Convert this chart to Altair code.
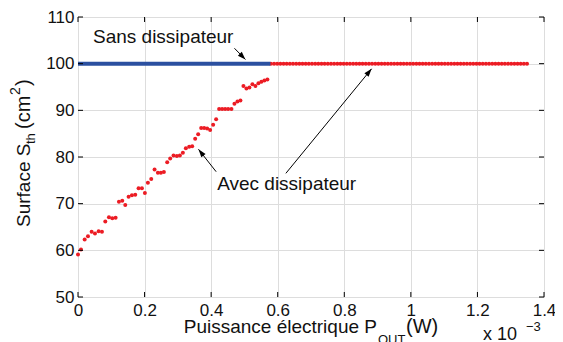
import math
import altair as alt
import pandas as pd

# ---------------- data (x in units of 1e-3 W, y in cm^2) ----------------
avec_rise_x = [0.000, 0.009, 0.020, 0.030, 0.041, 0.051, 0.062, 0.072, 0.082, 0.093,
               0.103, 0.113, 0.123, 0.133, 0.142, 0.152, 0.162, 0.172, 0.182, 0.192,
               0.201, 0.210, 0.220, 0.230, 0.240, 0.249, 0.258, 0.268, 0.277, 0.287,
               0.297, 0.306, 0.315, 0.324, 0.334, 0.343, 0.352, 0.361, 0.370, 0.379,
               0.388, 0.397, 0.406, 0.415, 0.424, 0.433, 0.442, 0.451, 0.461, 0.470,
               0.479, 0.488, 0.497, 0.506, 0.515, 0.524, 0.533, 0.542, 0.551, 0.560,
               0.569]
avec_rise_y = [59.1, 60.2, 62.3, 63.0, 64.0, 63.6, 64.1, 64.0, 66.2, 67.1,
               66.9, 67.0, 70.4, 70.6, 69.7, 71.5, 71.8, 71.9, 73.3, 73.3,
               72.3, 74.5, 75.3, 77.3, 76.6, 76.6, 76.8, 78.9, 79.7, 80.3,
               80.2, 80.3, 80.9, 81.9, 82.2, 82.3, 83.9, 84.9, 86.2, 86.2,
               86.1, 85.8, 86.9, 88.1, 90.3, 90.3, 90.3, 90.3, 90.3, 91.4,
               91.9, 92.1, 95.2, 94.7, 94.9, 95.6, 95.2, 95.8, 96.1, 96.4,
               96.6]
avec_sat_x = [0.5795, 0.589, 0.5985, 0.608, 0.6175, 0.627, 0.6365, 0.646, 0.6555, 0.665,
              0.6745, 0.684, 0.6935, 0.703, 0.7125, 0.722, 0.7315, 0.741, 0.7505, 0.76,
              0.7695, 0.779, 0.7885, 0.798, 0.8075, 0.817, 0.8265, 0.836, 0.8455, 0.855,
              0.8645, 0.874, 0.8835, 0.893, 0.9025, 0.912, 0.9215, 0.931, 0.9405, 0.95,
              0.9595, 0.969, 0.9785, 0.988, 0.9975, 1.007, 1.0165, 1.026, 1.0355, 1.045,
              1.0545, 1.064, 1.0735, 1.083, 1.0925, 1.102, 1.1115, 1.121, 1.1305, 1.14,
              1.1495, 1.159, 1.1685, 1.178, 1.1875, 1.197, 1.2065, 1.216, 1.2255, 1.235,
              1.2445, 1.254, 1.2635, 1.273, 1.2825, 1.292, 1.3015, 1.311, 1.3205, 1.33,
              1.3395, 1.349]
avec_sat_level = 100
sans_x = [0.0, 0.578]
sans_y = [100, 100]

x_ticks = [0, 0.2, 0.4, 0.6, 0.8, 1.0, 1.2, 1.4]
y_ticks = [50, 60, 70, 80, 90, 100, 110]

label_sans = "Sans dissipateur"
label_avec = "Avec dissipateur"
label_pos = {"sans": (0.045, 104.4), "avec": (0.418, 72.9)}
arrows_x0 = [0.470, 0.415, 0.6245]
arrows_y0 = [103.3, 76.85, 76.5]
arrows_x1 = [0.503, 0.362, 0.882]
arrows_y1 = [100.9, 81.65, 98.9]

# ---------------- layout ----------------
W, H = 466, 280
XDOM, YDOM = [0, 1.4], [50, 110]
FONT = "Liberation Sans"
RED = "#ec1c24"
BLUE = "#2b50a0"
TICKFS = 17

xs = alt.Scale(domain=XDOM, nice=False, zero=False)
ys = alt.Scale(domain=YDOM, nice=False, zero=False)


def X(f):
    return alt.X(f, type="quantitative", scale=xs,
                 axis=alt.Axis(values=x_ticks, format=".1~f", title=None, grid=True,
                               ticks=False, domain=False, labelFlush=False,
                               labelPadding=5, labelFont=FONT, labelFontSize=TICKFS,
                               labelColor="#111"))


def Y(f):
    return alt.Y(f, type="quantitative", scale=ys,
                 axis=alt.Axis(values=y_ticks, format="d", title=None, grid=True,
                               ticks=False, domain=False, labelPadding=4,
                               labelFont=FONT, labelFontSize=TICKFS, labelColor="#111"))


rise = pd.DataFrame({"x": avec_rise_x, "y": avec_rise_y})
sat = pd.DataFrame({"x": avec_sat_x, "y": [avec_sat_level] * len(avec_sat_x)})
avec = pd.concat([rise, sat], ignore_index=True)
sans = pd.DataFrame({"x": sans_x, "y": sans_y})

red_pts = alt.Chart(avec).mark_circle(color=RED, size=16, opacity=1).encode(x=X("x"), y=Y("y"))
blue_line = alt.Chart(sans).mark_line(color=BLUE, strokeWidth=4, strokeCap="butt").encode(x=X("x"), y=Y("y"))

# inward ticks on all four sides
xt = pd.DataFrame({"x": x_ticks})
yt = pd.DataFrame({"y": y_ticks})
tick_len = 5
ticks = [
    alt.Chart(xt).mark_rule(color="black").encode(x=X("x"), y=alt.value(H), y2=alt.value(H - tick_len)),
    alt.Chart(xt).mark_rule(color="black").encode(x=X("x"), y=alt.value(0), y2=alt.value(tick_len)),
    alt.Chart(yt).mark_rule(color="black").encode(y=Y("y"), x=alt.value(0), x2=alt.value(tick_len)),
    alt.Chart(yt).mark_rule(color="black").encode(y=Y("y"), x=alt.value(W), x2=alt.value(W - tick_len)),
]

# arrows
angs = []
for a, b, c, d in zip(arrows_x0, arrows_y0, arrows_x1, arrows_y1):
    dx = (c - a) * W / (XDOM[1] - XDOM[0])
    dy = -(d - b) * H / (YDOM[1] - YDOM[0])
    angs.append(math.degrees(math.atan2(dx, -dy)) % 360)
arr = pd.DataFrame({"x": arrows_x0, "y": arrows_y0, "x2": arrows_x1, "y2": arrows_y1, "ang": angs})
arrow_lines = alt.Chart(arr).mark_rule(color="black", strokeWidth=1).encode(
    x=X("x"), y=Y("y"), x2="x2:Q", y2="y2:Q")
arrow_heads = alt.Chart(arr).mark_point(
    shape="M0,0L-0.34,1L0.34,1Z", filled=True, color="black", opacity=1, size=256, strokeWidth=0
).encode(x=X("x2"), y=Y("y2"), angle=alt.Angle("ang:Q", scale=None))

ann = pd.DataFrame({"x": [label_pos["sans"][0], label_pos["avec"][0]],
                    "y": [label_pos["sans"][1], label_pos["avec"][1]],
                    "t": [label_sans, label_avec]})
ann_text = alt.Chart(ann).mark_text(font=FONT, fontSize=19, align="left", baseline="alphabetic",
                                    color="#111").encode(x=X("x"), y=Y("y"), text="t:N")


def ptext(txt, px, py, size, angle=0, align="left"):
    return alt.Chart(pd.DataFrame({"t": [txt]})).mark_text(
        font=FONT, fontSize=size, align=align, baseline="alphabetic", angle=angle, color="#111"
    ).encode(x=alt.value(px), y=alt.value(py), text="t:N")


# x-axis title pieces
xtitle = [
    ptext("Puissance électrique P", 299, 316, 19, align="right"),
    ptext("OUT", 300, 327, 13),
    ptext("(W)", 328, 316, 20),
    ptext("x 10", 405, 323, 18),
    ptext("\u22123", 448, 314, 13),
]
# y-axis title pieces (rotated, reading upwards)
ytitle = [
    ptext("Surface S", -48, 210, 19, angle=270),
    ptext("th", -43, 127, 13, angle=270),
    ptext("(cm", -48, 112, 20, angle=270),
    ptext("2", -58, 78, 14, angle=270),
    ptext(")", -48, 69, 20, angle=270),
]

chart = alt.layer(
    red_pts, blue_line, *ticks, arrow_lines, arrow_heads, ann_text, *xtitle, *ytitle
).properties(
    width=W, height=H,
    autosize=alt.AutoSizeParams(type="none"),
    padding={"left": 70, "top": 9, "right": 11, "bottom": 60},
).configure_view(
    stroke="black", strokeWidth=1
).configure_axis(
    labelFont=FONT, labelFontSize=TICKFS, labelColor="#111",
    gridColor="#a8a8a8", gridDash=[1, 3], gridWidth=1,
).configure(background="white")

chart.save("out.html", embed_options={"renderer": "svg", "actions": False})
